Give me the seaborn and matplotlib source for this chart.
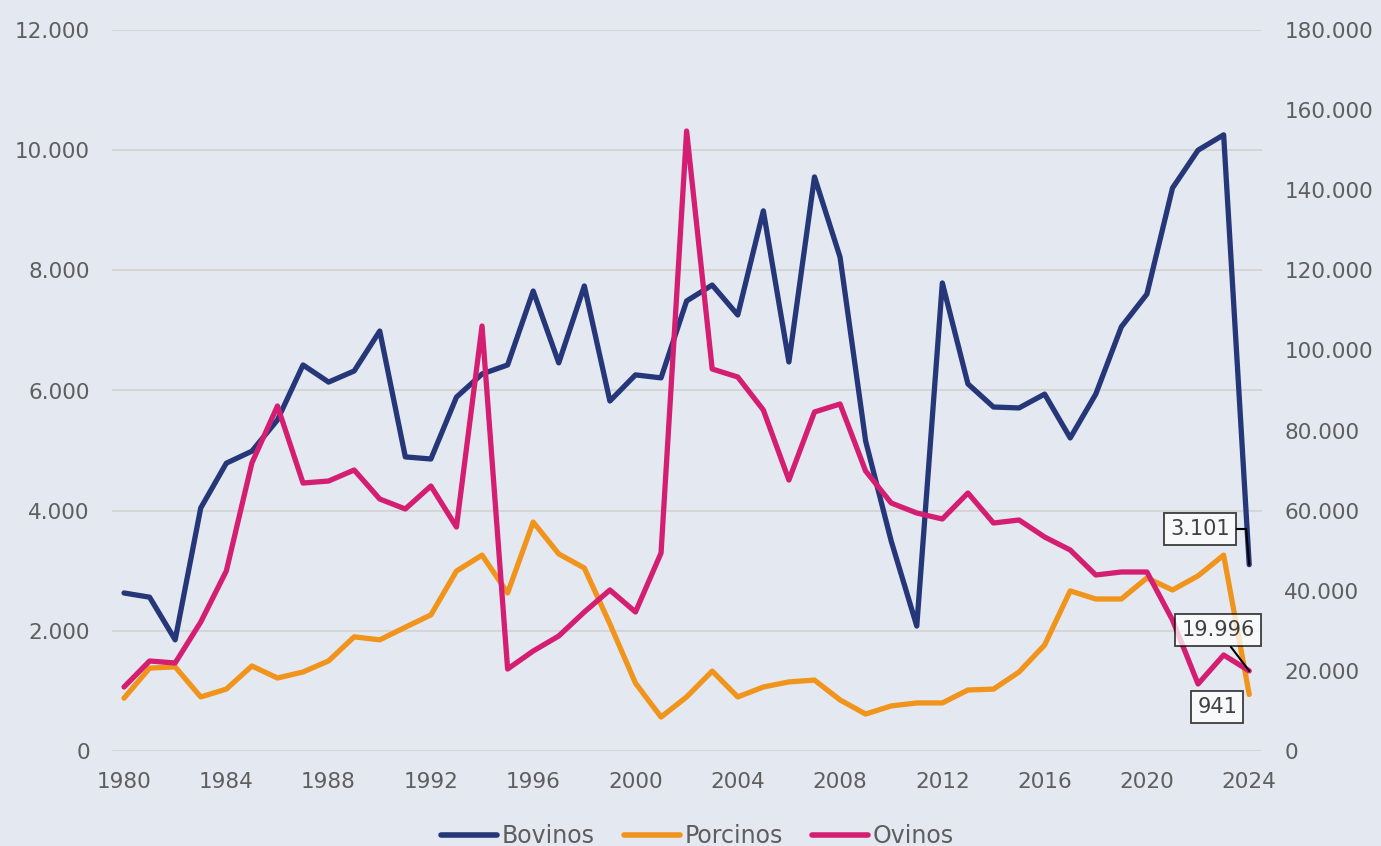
import matplotlib
matplotlib.use("Agg")
import matplotlib.pyplot as plt
import seaborn as sns
import pandas as pd
from matplotlib.ticker import FuncFormatter, MultipleLocator

years = list(range(1980, 2025))
bovinos = [2630, 2560, 1850, 4045, 4790, 4990, 5510, 6425, 6140, 6325,
           6990, 4895, 4860, 5890, 6275, 6425, 7655, 6460, 7740, 5825,
           6260, 6210, 7490, 7755, 7257, 8990, 6475, 9555, 8220, 5160,
           3495, 2080, 7790, 6110, 5725, 5710, 5940, 5210, 5940, 7060,
           7605, 9370, 10000, 10255, 3101]
porcinos = [880, 1380, 1400, 900, 1030, 1415, 1215, 1315, 1500, 1900,
            1850, 2060, 2265, 2995, 3260, 2630, 3810, 3280, 3045, 2115,
            1130, 565, 900, 1330, 900, 1065, 1150, 1180, 850, 615,
            750, 800, 800, 1015, 1030, 1315, 1765, 2665, 2530, 2530,
            2880, 2680, 2915, 3260, 941]
ovinos = [15980, 22470, 21970, 32200, 44940, 71900, 86130, 66900, 67400, 70150,
          62910, 60420, 66160, 55920, 106100, 20470, 24965, 28710, 34700, 40200,
          34700, 49430, 154780, 95370, 93370, 85130, 67650, 84630, 86630, 69900,
          61910, 59420, 57920, 64410, 56920, 57670, 53425, 50180, 43940, 44690,
          44690, 32700, 16730, 23970, 19996]
series_names = ["Bovinos", "Porcinos", "Ovinos"]
colors = {"Bovinos": "#253778", "Porcinos": "#F0941C", "Ovinos": "#D41E72"}
x_ticks = list(range(1980, 2025, 4))

bg = "#E4E8F0"
txt = "#5E5E5E"
sns.set_theme(style="white")
plt.rcParams["font.family"] = ["DejaVu Sans"]

df_left = pd.DataFrame({
    "Año": years * 2,
    "Valor": bovinos + porcinos,
    "Serie": ["Bovinos"] * len(years) + ["Porcinos"] * len(years),
})
df_right = pd.DataFrame({"Año": years, "Valor": ovinos, "Serie": ["Ovinos"] * len(years)})

fig = plt.figure(figsize=(13.81, 8.46), dpi=100, facecolor=bg)
ax = fig.add_axes([112 / 1381, 1 - 751 / 846, (1262 - 112) / 1381, (751 - 30) / 846])
ax.set_facecolor(bg)
ax2 = ax.twinx()

sns.lineplot(data=df_left, x="Año", y="Valor", hue="Serie", palette=colors,
             linewidth=3.8, ax=ax, legend=False, solid_capstyle="round")
sns.lineplot(data=df_right, x="Año", y="Valor", hue="Serie", palette=colors,
             linewidth=3.8, ax=ax2, legend=False, solid_capstyle="round")

fmt = FuncFormatter(lambda v, p: f"{int(round(v)):,}".replace(",", "."))
ax.set_ylim(0, 12000)
ax2.set_ylim(0, 180000)
ax.yaxis.set_major_locator(MultipleLocator(2000))
ax2.yaxis.set_major_locator(MultipleLocator(20000))
ax.yaxis.set_major_formatter(fmt)
ax2.yaxis.set_major_formatter(fmt)
ax.set_xlim(1979.53, 2024.5)
ax.set_xticks(x_ticks)

for a in (ax, ax2):
    for s in a.spines.values():
        s.set_visible(False)
    a.set_xlabel("")
    a.set_ylabel("")
ax.grid(axis="y", color="#D5D5D8", linewidth=1.5)
ax.grid(axis="x", visible=False)
ax2.grid(False)
ax.set_axisbelow(True)
ax.tick_params(axis="y", length=0, pad=16, labelsize=15.5, labelcolor=txt)
ax.tick_params(axis="x", length=0, pad=15, labelsize=15.5, labelcolor=txt)
ax2.tick_params(axis="y", length=0, pad=16, labelsize=15.5, labelcolor=txt)

box = dict(boxstyle="square,pad=0.3", fc="white", ec="black", lw=1.3, alpha=0.75)
ax.annotate("3.101", xy=(2024, 3101), xytext=(2022.08, 3695), textcoords="data",
            ha="center", va="center", fontsize=15, color="#404040", bbox=box,
            arrowprops=dict(arrowstyle="-", color="black", lw=1.5,
                            connectionstyle="angle,angleA=0,angleB=95,rad=0",
                            shrinkA=0, shrinkB=0))
ax2.annotate("19.996", xy=(2024, 19996), xytext=(2022.78, 30200), textcoords="data",
             ha="center", va="center", fontsize=15, color="#404040", bbox=box,
             arrowprops=dict(arrowstyle="-", color="black", lw=1.5, shrinkA=0, shrinkB=0))
ax.annotate("941", xy=(2024, 941), xytext=(2022.75, 732), textcoords="data",
            ha="center", va="center", fontsize=15, color="#404040", bbox=box)

handles = [plt.Line2D([], [], color=colors[n], lw=4, solid_capstyle="round") for n in series_names]
fig.legend(handles, series_names, loc="center", bbox_to_anchor=(0.505, 0.012),
           ncol=3, frameon=False, fontsize=17, handlelength=2.37, handletextpad=0.21,
           columnspacing=1.23, labelcolor=txt)

fig.savefig("out.png", dpi=100, facecolor=bg)
